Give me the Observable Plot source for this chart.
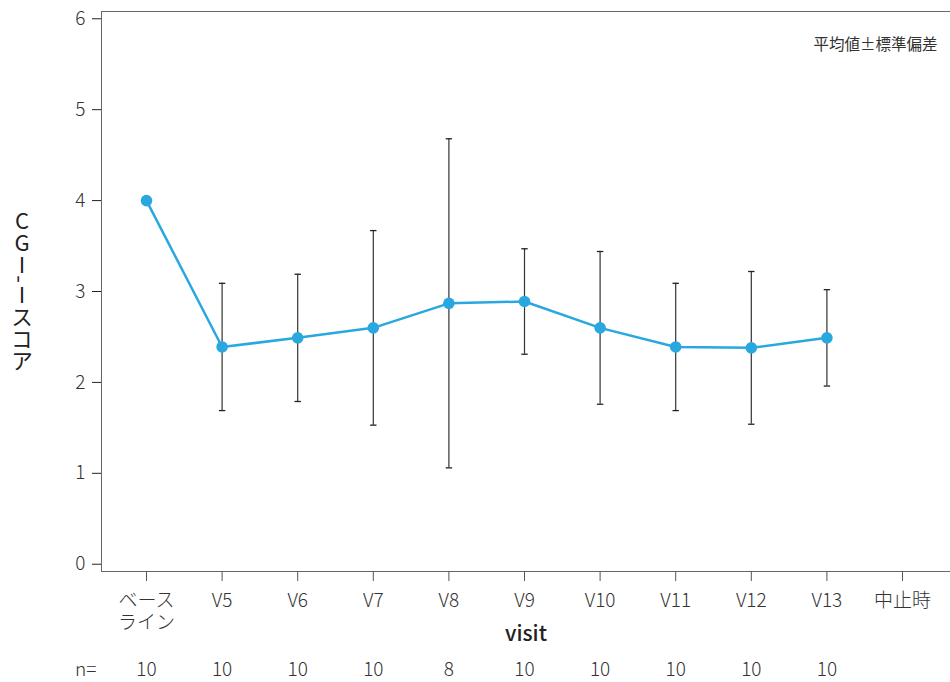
<!DOCTYPE html>
<html>
<head>
<meta charset="utf-8">
<script src="https://cdn.jsdelivr.net/npm/d3@7"></script>
<script src="https://cdn.jsdelivr.net/npm/@observablehq/plot@0.6"></script>
<style>
  html, body { margin: 0; padding: 0; background: #fff; }
  #chart svg { display: block; }
</style>
</head>
<body>
<div id="chart"></div>
<script>
// ---- data ----
const visits = ["ベースライン", "V5", "V6", "V7", "V8", "V9", "V10", "V11", "V12", "V13", "中止時"];
const tickLabels = ["ベース\nライン", "V5", "V6", "V7", "V8", "V9", "V10", "V11", "V12", "V13", "中止時"];
const dataVisits = ["ベースライン", "V5", "V6", "V7", "V8", "V9", "V10", "V11", "V12", "V13"];
const means = [4.00, 2.39, 2.49, 2.60, 2.87, 2.89, 2.60, 2.39, 2.38, 2.49];
const sds   = [null, 0.70, 0.70, 1.07, 1.81, 0.58, 0.84, 0.70, 0.84, 0.53];
const nCounts = [10, 10, 10, 10, 8, 10, 10, 10, 10, 10];
const yTicks = [0, 1, 2, 3, 4, 5, 6];
const yLabel = "CGI-Iスコア";
const xLabel = "visit";
const legendText = "平均値±標準偏差";

const rows = dataVisits.map((v, i) => ({visit: v, mean: means[i], sd: sds[i], n: nCounts[i]}));
const errRows = rows.filter(d => d.sd != null).map(d => ({visit: d.visit, lo: d.mean - d.sd, hi: d.mean + d.sd}));
const labelOf = new Map(visits.map((v, i) => [v, tickLabels[i]]));

const capSymbol = {
  draw(ctx, size) {
    const r = Math.sqrt(size / Math.PI);
    ctx.moveTo(-r, 0);
    ctx.lineTo(r, 0);
  }
};

const font = "'Noto Sans CJK JP', 'Noto Sans', sans-serif";
const lineColor = "#29a8e0";
const tickFont = 19;

const plot = Plot.plot({
  width: 950,
  height: 682,
  marginLeft: 101,
  marginRight: 0,
  marginTop: 11,
  marginBottom: 111,
  style: {fontFamily: font, fontSize: tickFont + "px", color: "#333", background: "#fff"},
  x: {type: "point", domain: visits, range: [146, 902], padding: 0, round: false, label: null},
  y: {domain: [-0.08, 6.08], label: null},
  marks: [
    Plot.frame({anchor: "left", stroke: "#666"}),
    Plot.frame({anchor: "bottom", stroke: "#666"}),
    Plot.frame({anchor: "top", stroke: "#666"}),
    Plot.axisY({ticks: yTicks, tickFormat: "d", tickSize: 9, tickPadding: 7, stroke: "#222", fontSize: tickFont, fontWeight: 300, fill: "#333", label: null}),
    Plot.axisX({tickSize: 10, tickPadding: 9, stroke: "#555", fontSize: tickFont, fontWeight: 300, fill: "#333", lineAnchor: "top", lineHeight: 1.2, tickFormat: d => labelOf.get(d), label: null}),
    Plot.ruleX(errRows, {x: "visit", y1: "lo", y2: "hi", stroke: "#333", strokeWidth: 1.2}),
    Plot.dot(errRows, {x: "visit", y: "lo", symbol: capSymbol, r: 3.2, stroke: "#222", strokeWidth: 1.3, fill: "none"}),
    Plot.dot(errRows, {x: "visit", y: "hi", symbol: capSymbol, r: 3.2, stroke: "#222", strokeWidth: 1.3, fill: "none"}),
    Plot.line(rows, {x: "visit", y: "mean", stroke: lineColor, strokeWidth: 2.5}),
    Plot.dot(rows, {x: "visit", y: "mean", r: 5.8, fill: lineColor, stroke: "none"}),
    Plot.text(rows, {x: "visit", text: d => String(d.n), frameAnchor: "bottom", dy: 104, fontSize: tickFont, fontWeight: 300, fill: "#333"}),
    Plot.text([ "n=" ], {text: d => d, frameAnchor: "bottom-left", dx: -5, dy: 104, textAnchor: "end", fontSize: tickFont, fontWeight: 300, fill: "#333"}),
    Plot.text([xLabel], {text: d => d, frameAnchor: "bottom", dy: 69, fontSize: 21, fontWeight: 500, fill: "#222"}),
    Plot.text([legendText], {text: d => d, frameAnchor: "top-right", dx: -13, dy: 27, textAnchor: "end", fontSize: 15.5, fill: "#333"})
  ]
});

document.getElementById("chart").appendChild(plot);

// vertical y-axis label
const svg = d3.select(plot);
const t = svg.append("text")
  .attr("x", 22)
  .attr("y", 290)
  .attr("fill", "#222")
  .attr("font-size", 22)
  .attr("font-family", font)
  .attr("text-anchor", "middle")
  .style("writing-mode", "vertical-rl")
  .style("text-orientation", "upright");
const parts = yLabel.split("-");
t.append("tspan").text(parts[0]);
t.append("tspan").style("text-orientation", "sideways").text("-");
t.append("tspan").text(parts[1]);
</script>
</body>
</html>
